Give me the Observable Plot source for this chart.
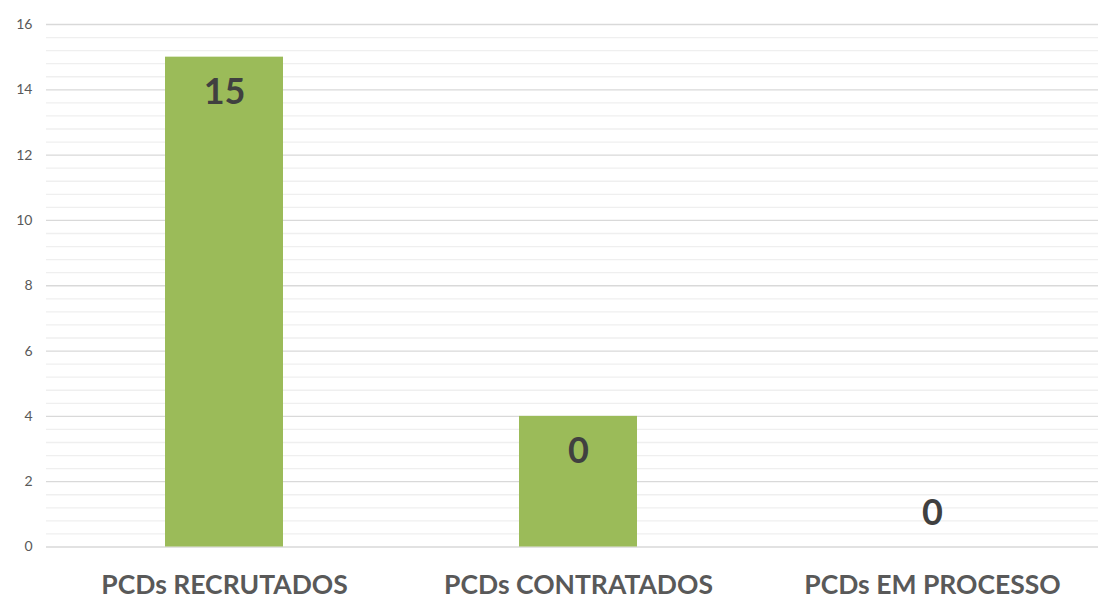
<!DOCTYPE html>
<html>
<head>
<meta charset="utf-8">
<script src="https://cdn.jsdelivr.net/npm/d3@7"></script>
<script src="https://cdn.jsdelivr.net/npm/@observablehq/plot@0.6"></script>
<style>
  html, body { margin: 0; padding: 0; background: #fff; overflow: hidden; }
  #chart svg { display: block; }
</style>
</head>
<body>
<div id="chart"></div>
<script>
// Categories, bar heights and the text printed on each bar
const categories = ["PCDs RECRUTADOS", "PCDs CONTRATADOS", "PCDs EM PROCESSO"];
const values = [15, 4, 0];
const valueLabels = ["15", "0", "0"];
const yTicks = [0, 2, 4, 6, 8, 10, 12, 14, 16];
const minorStep = 0.4;

const rows = categories.map((c, i) => ({category: c, value: values[i], label: valueLabels[i]}));
const minorTicks = d3.range(0, 16 + 1e-9, minorStep)
  .map(v => Math.round(v * 10) / 10)
  .filter(v => !yTicks.includes(v));

const W = 1098, H = 599;
const mLeft = 46, mTop = 24, mBottom = 52.5;

const chart = Plot.plot({
  width: W,
  height: H,
  marginLeft: mLeft,
  marginRight: 0,
  marginTop: mTop,
  marginBottom: mBottom,
  style: {fontFamily: "Lato, 'Open Sans', sans-serif", background: "#fff"},
  x: {domain: categories, range: [mLeft, 1109.5], paddingInner: 0.667, paddingOuter: 0.333},
  y: {domain: [0, 16]},
  marks: [
    Plot.ruleY(minorTicks, {stroke: "#efefef", strokeWidth: 1.3}),
    Plot.ruleY(yTicks, {stroke: "#d9d9d9", strokeWidth: 1.3}),
    Plot.barY(rows, {x: "category", y: "value", fill: "#9bbb59"}),
    Plot.text(rows.filter(d => d.value > 0), {
      x: "category", y: "value", text: "label", dy: 35,
      fontSize: 36, fontWeight: "bold", fill: "#404040"
    }),
    Plot.text(rows.filter(d => d.value === 0), {
      x: "category", y: "value", text: "label", dy: -34,
      fontSize: 36, fontWeight: "bold", fill: "#404040"
    }),
    Plot.axisY({
      ticks: yTicks, tickSize: 0, tickPadding: 14,
      fontSize: 14, fill: "#595959", label: null
    }),
    Plot.axisX({
      tickSize: 0, tickPadding: 28, fontSize: 26.5, fontWeight: "bold",
      fill: "#595959", label: null
    })
  ]
});

document.getElementById("chart").appendChild(chart);
</script>
</body>
</html>
